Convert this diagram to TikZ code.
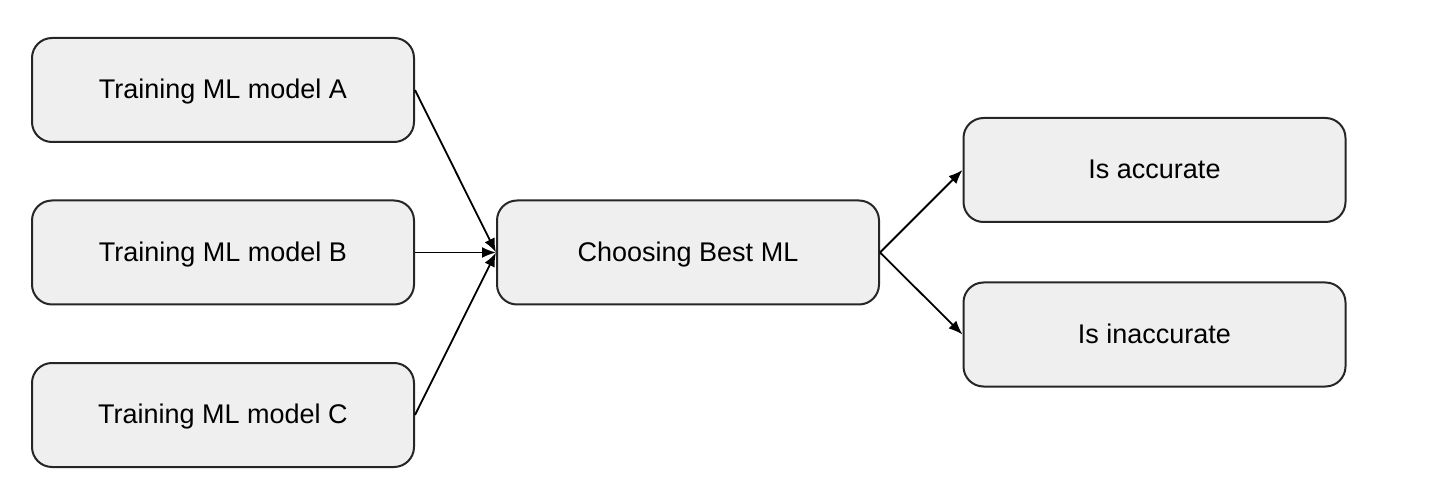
\documentclass[tikz,border=0pt]{standalone}
\usepackage{fontspec}
\setmainfont{Liberation Sans}
\usetikzlibrary{arrows.meta}
\definecolor{boxfill}{HTML}{EFEFEF}
\tikzset{
    stagebox/.style={draw=black!85, line width=1pt, rounded corners=10pt, fill=boxfill,
        minimum width=191pt, minimum height=52pt, text depth=1pt,
        font=\fontsize{13.5}{16}\selectfont},
    flow/.style={-{Latex[length=7pt,width=5.5pt]}, line width=0.9pt}
}
\begin{document}
\begin{tikzpicture}[x=0.5pt,y=-0.5pt]
    \useasboundingbox (0,0) rectangle (1430,502);

    % Training boxes
    \node[stagebox] (trainA) at (223,90) {Training ML model A};
    \node[stagebox] (trainB) at (223,252.5) {Training ML model B};
    \node[stagebox] (trainC) at (223,415) {Training ML model C};

    % Selection
    \node[stagebox] (best) at (688,252.5) {Choosing Best ML};

    % Outcomes
    \node[stagebox] (acc) at (1154.5,170) {Is accurate};
    \node[stagebox] (inacc) at (1154.5,334.5) {Is inaccurate};

    % Connectors
    \draw[flow] (trainA.east) -- (best.west);
    \draw[flow] (trainB.east) -- (best.west);
    \draw[flow] (trainC.east) -- (best.west);
    \draw[flow] (best.east) -- (acc.west);
    \draw[flow] (best.east) -- (inacc.west);
\end{tikzpicture}
\end{document}
